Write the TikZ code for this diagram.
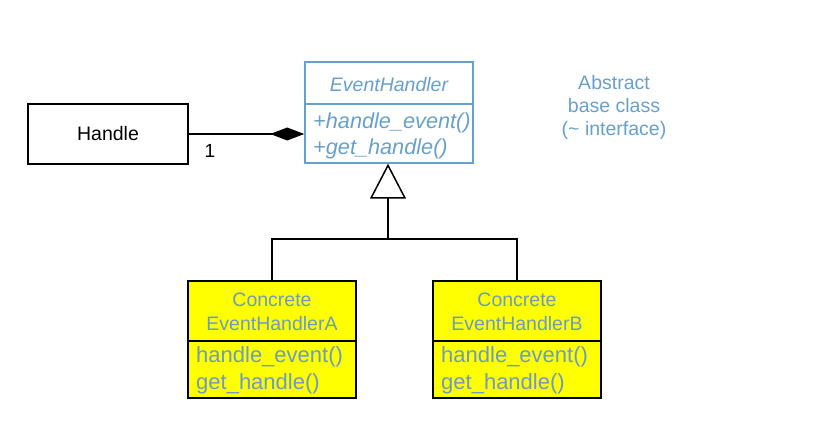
\documentclass[tikz,border=0pt]{standalone}
\usepackage{fontspec}
\setmainfont{Liberation Sans}
\usetikzlibrary{arrows.meta}
\definecolor{umlblue}{RGB}{104,160,204}
\definecolor{boxblue}{RGB}{108,155,196}
\definecolor{umlyellow}{RGB}{255,255,0}
\begin{document}
\begin{tikzpicture}[x=1pt,y=-1pt,
  conn/.style={draw=black, line width=1.5pt},
  classbox/.style={draw=black, line width=1.5pt, fill=umlyellow, minimum width=168pt, minimum height=117pt, inner sep=0pt},
  lbl/.style={inner sep=0pt, font=\fontsize{19.5}{23}\selectfont},
  meth/.style={inner sep=0pt, anchor=west, font=\fontsize{22}{26}\selectfont, text=boxblue},
]
\useasboundingbox (0,0) rectangle (818,430);
% Handle
\node[draw=black, line width=1.5pt, minimum width=160pt, minimum height=60pt, inner sep=0pt, font=\fontsize{19.5}{23}\selectfont] (handle) at (108,134) {Handle};
% EventHandler
\node[draw=umlblue, line width=1.5pt, minimum width=168pt, minimum height=101pt, inner sep=0pt] (eh) at (389,112.5) {};
\draw[draw=umlblue, line width=1.5pt] (305,104) -- (473,104);
\node[lbl, text=umlblue, font=\fontsize{19.5}{23}\selectfont\itshape] (ehtitle) at (389,85) {EventHandler};
\node[meth, text=umlblue, font=\fontsize{21.7}{26}\selectfont\itshape] (ehm1) at (313,123) {+handle\_event()};
\node[meth, text=umlblue, font=\fontsize{21.7}{26}\selectfont\itshape] (ehm2) at (313,149) {+get\_handle()};
% note
\node[lbl, text=umlblue, align=center] (note) at (614,107) {Abstract\\base class\\(\textasciitilde{} interface)};
% composition
\draw[conn, -{Diamond[length=34pt, width=13pt]}] (handle.east) -- (handle.east -| eh.west);
\node[lbl, font=\fontsize{19}{23}\selectfont] (one) at (210,151) {1};
% concrete classes
\node[classbox] (a) at (272,339.5) {};
\draw[conn] (188,341) -- (356,341);
\node[lbl, text=boxblue] (at1) at (272,300) {Concrete};
\node[lbl, text=boxblue] (at2) at (272,324) {EventHandlerA};
\node[meth] (am1) at (196,357) {handle\_event()};
\node[meth] (am2) at (196,384) {get\_handle()};
\node[classbox] (b) at (517,339.5) {};
\draw[conn] (433,341) -- (601,341);
\node[lbl, text=boxblue] (bt1) at (517,300) {Concrete};
\node[lbl, text=boxblue] (bt2) at (517,324) {EventHandlerB};
\node[meth] (bm1) at (441,357) {handle\_event()};
\node[meth] (bm2) at (441,384) {get\_handle()};
% inheritance
\coordinate (j) at (388,239);
\draw[conn, -{Triangle[open, length=35pt, width=36pt, line width=1.5pt]}] (j) -- (j |- eh.south);
\draw[conn] (a.north) |- (j) -| (b.north);
\end{tikzpicture}
\end{document}
